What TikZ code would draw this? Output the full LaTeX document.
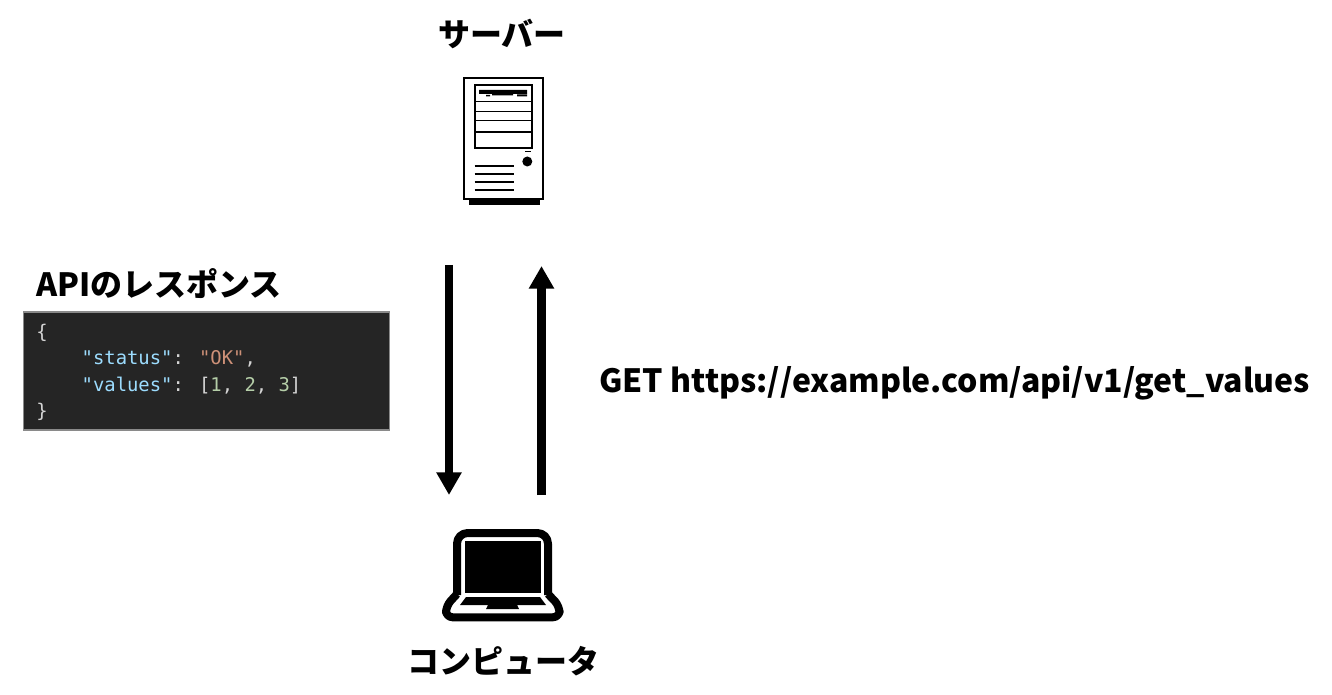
\documentclass[tikz,border=0pt]{standalone}
\usepackage{fontspec}
\usetikzlibrary{arrows.meta}
\newfontfamily\labelfont{Noto Sans CJK JP}
\newfontfamily\codefont{DejaVu Sans Mono}
\definecolor{codebg}{HTML}{252525}
\definecolor{codeedge}{HTML}{8A8A8A}
\definecolor{codekey}{HTML}{9CDCFE}
\definecolor{codestr}{HTML}{CE9178}
\definecolor{codenum}{HTML}{B5CEA8}
\definecolor{codetxt}{HTML}{D4D4D4}
\begin{document}
\begin{tikzpicture}[x=0.75pt,y=-0.75pt,line cap=butt,line join=miter,>=stealth]
	\tikzset{
		title/.style={font=\labelfont\bfseries\fontsize{24}{28}\selectfont,inner sep=0pt},
		flow/.style={line width=6.5pt,-{Triangle[width=18pt,length=17pt]}},
		thinline/.style={line width=1.15pt},
		iconedge/.style={line width=1.5pt}
	}
	\useasboundingbox (0,0) rectangle (1332,695);
	% titles
	\node[title] (servertitle) at (502,34) {サーバー};
	\node[title] (pctitle) at (503,661) {コンピュータ};
	\node[title,anchor=west] (apititle) at (36,284) {APIのレスポンス};
	\node[title,anchor=west] (request) at (599,383) {GET https://example.com/api/v1/get\_values};
	% response box
	\node[fill=codebg,draw=codeedge,line width=0.8pt,minimum width=275pt,minimum height=88.5pt,inner sep=0pt] (code) at (206.5,371) {};
	\node[anchor=west,inner sep=0pt,align=left,text=codetxt,font=\codefont\fontsize{14.15}{19.7}\selectfont] (codetext) at (36,372.5) {%
		\{\\
		~~~~\textcolor{codekey}{"status"}: \textcolor{codestr}{"OK"},\\
		~~~~\textcolor{codekey}{"values"}: [\textcolor{codenum}{1}, \textcolor{codenum}{2}, \textcolor{codenum}{3}]\\
		\}};
	% server icon
	\fill (468.5,198) rectangle (539.5,205);
	\draw[iconedge,fill=white] (464,78.5) rectangle (542.5,199);
	\draw[iconedge] (474.5,85.5) rectangle (531.5,148.5);
	\draw[thinline] (474.5,101.7)--(531.5,101.7) (474.5,111.7)--(531.5,111.7) (474.5,120.7)--(531.5,120.7);
	\draw[iconedge] (474.5,132.3)--(531.5,132.3);
	\fill (479,90) rectangle (527,94) (492,94) rectangle (513,95.5) (486,95) rectangle (490,96.5) (517,94.5) rectangle (527,96.5);
	\fill (524.5,151) rectangle (531,152.5);
	\fill (527.3,161.5) circle (5);
	\draw[thinline] (474.5,166)--(513.5,166) (474.5,174)--(513.5,174) (474.5,182)--(513.5,182) (474.5,190)--(513.5,190);
	% laptop icon
	\draw[line width=6pt,line join=round,rounded corners=8pt] (457,595)--(457,533)--(548,533)--(548,595);
	\draw[line width=6pt,line join=round,rounded corners=5pt] (457,594)--(446,606)--(446,617.3)--(559.5,617.3)--(559.5,606)--(548,594);
	\fill (465,541) rectangle (541,593);
	\fill (466,597)--(540,597)--(546,605)--(517,605)--(519,609)--(486,609)--(488,605)--(460,605)--cycle;
	% arrows
	\coordinate (downtop) at (449,265);
	\coordinate (downend) at (449,495);
	\coordinate (uptop) at (541.5,266);
	\coordinate (upend) at (541.5,495);
	\draw[flow] (downtop)--(downend);
	\draw[flow] (upend)--(uptop);
\end{tikzpicture}
\end{document}
